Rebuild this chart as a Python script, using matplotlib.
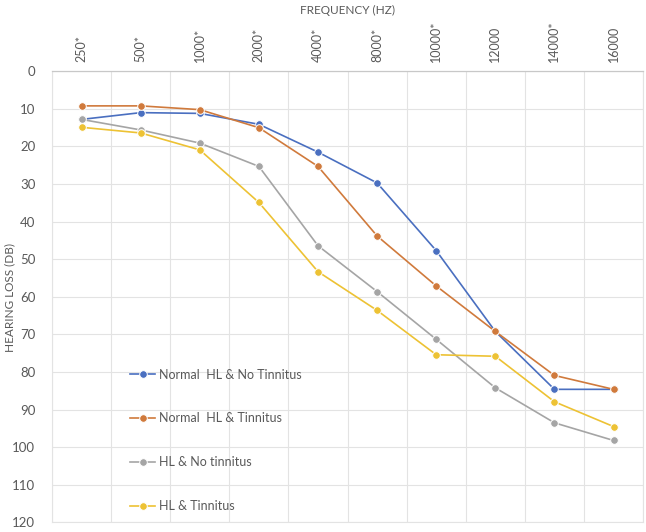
import numpy as np
import matplotlib
matplotlib.use("Agg")
import matplotlib.pyplot as plt

plt.rcParams['font.family'] = ['Lato', 'DejaVu Sans']

freqs = ['250*', '500*', '1000*', '2000*', '4000*', '8000*', '10000*', '12000', '14000*', '16000']

normal_no_tin = [12.8, 11.0, 11.2, 14.1, 21.5, 29.7, 47.7, 69.2, 84.6, 84.6]
normal_tin = [9.2, 9.2, 10.2, 15.0, 25.3, 43.8, 57.1, 69.2, 80.9, 84.6]
hl_no_tin = [12.8, 15.6, 19.1, 25.3, 46.4, 58.6, 71.3, 84.2, 93.5, 98.2]
hl_tin = [14.9, 16.4, 20.9, 34.9, 53.3, 63.6, 75.4, 75.8, 87.9, 94.5]

labels = ['Normal  HL & No Tinnitus', 'Normal  HL & Tinnitus', 'HL & No tinnitus', 'HL & Tinnitus']
colors = ['#4A6FC0', '#D07A3C', '#A5A5A5', '#EDC234']
txt = '#595959'

fig = plt.figure(figsize=(6.46, 5.32), dpi=100)
ax = fig.add_axes([0.0805, 0.018, 0.915, 0.848])

x = np.arange(len(freqs))
for s, lab, c in zip([normal_no_tin, normal_tin, hl_no_tin, hl_tin], labels, colors):
    ax.plot(x, s, color=c, lw=1.2, marker='o', ms=5.5, mec='white', mew=0.7, label=lab, zorder=3)

ax.set_xlim(-0.5, len(freqs) - 0.5)
ax.set_ylim(120, 0)
ax.set_yticks(np.arange(0, 121, 10))
ax.xaxis.tick_top()
ax.set_xticks(x)
ax.set_xticklabels(freqs, rotation=90, fontsize=9, color=txt)
ax.tick_params(axis='y', labelsize=9.5, colors=txt, length=0, pad=12)
ax.tick_params(axis='x', length=0, pad=7)

# axis titles placed on the figure
fig.text(347 / 646, 1 - 10 / 532, 'FREQUENCY (HZ)', fontsize=8.5, color=txt, ha='center', va='center')
fig.text(10 / 646, 1 - 297 / 532, 'HEARING LOSS (DB)', fontsize=8.5, color=txt, ha='center', va='center',
         rotation=90)

# gridlines between categories
for xv in np.arange(-0.5, len(freqs), 1):
    ax.axvline(xv, color='#E3E3E3', lw=0.8, zorder=0)
for yv in np.arange(0, 121, 10):
    ax.axhline(yv, color='#E3E3E3', lw=0.8, zorder=0)

for side in ['left', 'right', 'bottom']:
    ax.spines[side].set_color('#E3E3E3')
    ax.spines[side].set_linewidth(0.8)
ax.spines['top'].set_color('#C8C8C8')
ax.spines['top'].set_linewidth(0.9)

leg = ax.legend(loc='center left', bbox_to_anchor=(0.113, 0.182), frameon=False,
                fontsize=9, labelspacing=2.55, handlelength=2.0, handletextpad=0.3)
for t in leg.get_texts():
    t.set_color(txt)

fig.savefig('out.png', dpi=100)
